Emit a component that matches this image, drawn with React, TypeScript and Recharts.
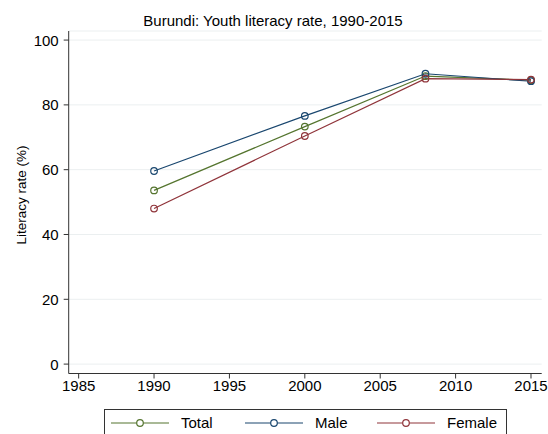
import React from 'react';
import { LineChart, Line, XAxis, YAxis, CartesianGrid } from 'recharts';

const years = [1990, 2000, 2008, 2015];
const totalRate = [53.6, 73.3, 88.9, 87.6];
const maleRate = [59.6, 76.6, 89.6, 87.3];
const femaleRate = [48.0, 70.4, 88.1, 87.8];
const xTicks = [1985, 1990, 1995, 2000, 2005, 2010, 2015];
const yTicks = [0, 20, 40, 60, 80, 100];

const series = [
  { key: 'total', name: 'Total', color: '#55752f' },
  { key: 'male', name: 'Male', color: '#1a476f' },
  { key: 'female', name: 'Female', color: '#90353b' },
];

const chartData = years.map((year, i) => ({
  year,
  total: totalRate[i],
  male: maleRate[i],
  female: femaleRate[i],
}));

const FONT = 'Liberation Sans, Arial, sans-serif';

const XTick = ({ x, y, payload }: any) => (
  <text x={x} y={y + 12} textAnchor="middle" fontSize={15} fontFamily={FONT} fill="#000">
    {payload.value}
  </text>
);

const YTick = ({ x, y, payload }: any) => (
  <text x={x} y={y + 5.5} textAnchor="end" fontSize={15} fontFamily={FONT} fill="#000">
    {payload.value}
  </text>
);

const YTitle = () => (
  <text
    x={26}
    y={195}
    transform="rotate(-90 26 195)"
    textAnchor="middle"
    fontSize={13.5}
    fill="#000"
    fontFamily={FONT}
  >
    Literacy rate (%)
  </text>
);

const LegendBox = () => (
  <div
    style={{
      position: 'absolute',
      left: 104,
      top: 409,
      width: 401,
      height: 40,
      border: '1px solid #333',
      background: '#fff',
      fontFamily: FONT,
      fontSize: 15,
    }}
  >
    {series.map((s, i) => {
      const left = [5, 139, 271][i];
      return (
        <div key={s.key} style={{ position: 'absolute', left, top: 3, display: 'flex', alignItems: 'center' }}>
          <svg width={60} height={20}>
            <line x1={1} x2={59} y1={10} y2={10} stroke={s.color} strokeWidth={1.2} />
            <circle cx={30} cy={10} r={3.3} fill="#fff" stroke={s.color} strokeWidth={1.2} />
          </svg>
          <span style={{ marginLeft: 11, lineHeight: '20px' }}>{s.name}</span>
        </div>
      );
    })}
  </div>
);

export default function App() {
  return (
    <div style={{ position: 'absolute', left: 0, top: 0, width: 548, height: 434, overflow: 'hidden', background: '#fff' }}>
      <div
        style={{
          position: 'absolute',
          left: 0,
          width: 546,
          top: 12,
          textAlign: 'center',
          fontFamily: FONT,
          fontSize: 15,
          lineHeight: '18px',
          color: '#000',
        }}
      >
        Burundi: Youth literacy rate, 1990-2015
      </div>
      <LineChart
        width={548}
        height={434}
        data={chartData}
        margin={{ top: 31, right: 6.3, left: 28.7, bottom: 30.5 }}
        style={{ position: 'absolute', left: 0, top: 0 }}
      >
        <CartesianGrid vertical={false} stroke="#ebeff0" strokeWidth={1} />
        <XAxis
          dataKey="year"
          type="number"
          domain={[1984.34, 2015.71]}
          ticks={xTicks}
          allowDataOverflow
          height={30}
          tickSize={5}
          tickMargin={0}
          tick={<XTick />}
          tickLine={{ stroke: '#333' }}
          axisLine={{ stroke: '#333' }}
        />
        <YAxis
          type="number"
          domain={[-2.9, 102.8]}
          ticks={yTicks}
          allowDataOverflow
          width={40}
          tickSize={5}
          tickMargin={5}
          tick={<YTick />}
          tickLine={{ stroke: '#333' }}
          axisLine={{ stroke: '#333' }}
          label={{ content: () => <YTitle /> }}
        />
        {series.map((s) => (
          <Line
            key={s.key}
            dataKey={s.key}
            name={s.name}
            stroke={s.color}
            strokeWidth={1.2}
            type="linear"
            dot={{ r: 3.3, fill: 'none', stroke: s.color, strokeWidth: 1.2 }}
            isAnimationActive={false}
          />
        ))}
      </LineChart>
      <LegendBox />
    </div>
  );
}
